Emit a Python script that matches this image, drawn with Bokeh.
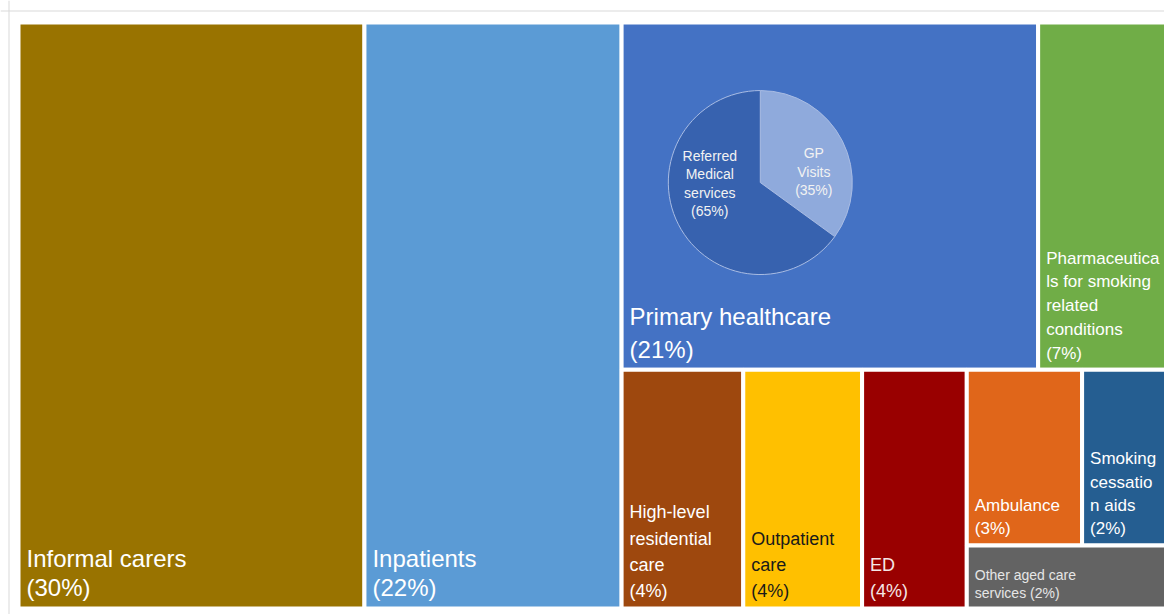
from bokeh.plotting import figure
from bokeh.models import Range1d, Span, ColumnDataSource
from bokeh.core.properties import value
from bokeh.embed import file_html
from bokeh.resources import INLINE
import math

# ---- data ----
categories = ["Informal carers", "Inpatients", "Primary healthcare",
              "Pharmaceuticals for smoking related conditions",
              "High-level residential care", "Outpatient care", "ED",
              "Ambulance", "Smoking cessation aids", "Other aged care services"]
shares = [30.0, 22.3, 21.4, 6.8, 4.3, 4.2, 3.7, 3.0, 2.3, 1.9]
pct_labels = ["30%", "22%", "21%", "7%", "4%", "4%", "4%", "3%", "2%", "2%"]
label_lines = [["Informal carers"], ["Inpatients"], ["Primary healthcare"],
               ["Pharmaceutica", "ls for smoking", "related", "conditions"],
               ["High-level", "residential", "care"], ["Outpatient", "care"], ["ED"],
               ["Ambulance"], ["Smoking", "cessatio", "n aids"], ["Other aged care", " services"]]
colors = ["#997300", "#5B9BD5", "#4472C4", "#70AD47", "#9E480E",
          "#FFC000", "#990000", "#E0661A", "#255E91", "#636363"]
text_colors = ["white", "white", "white", "white", "white",
               "#1a1a1a", "#f5e6e6", "white", "white", "#e6e6e6"]

pie_categories = ["GP Visits", "Referred Medical services"]
pie_shares = [35, 65]
pie_pct = ["35%", "65%"]
pie_lines = [["GP", "Visits"], ["Referred", "Medical", "services"]]
pie_colors = ["#8FAADC", "#3762AF"]

# ---- treemap layout (slice-and-dice hierarchy) ----
tree = ("h", [0, 1, ("v", [("h", [2, 3]), ("h", [4, 5, 6, ("v", [("h", [7, 8]), 9])])])])

def total(node):
    if isinstance(node, int):
        return shares[node]
    return sum(total(k) for k in node[1])

rects = {}
def layout(node, x0, y0, x1, y1):
    if isinstance(node, int):
        rects[node] = (x0, y0, x1, y1)
        return
    d, kids = node
    t = total(node)
    if d == "h":
        c = x0
        for k in kids:
            w = (x1 - x0) * total(k) / t
            layout(k, c, y0, c + w, y1)
            c += w
    else:
        c = y1
        for k in kids:
            h = (y1 - y0) * total(k) / t
            layout(k, x0, c - h, x1, c)
            c -= h

W, H = 1152, 586
layout(tree, 0, 0, W, H)

n = len(categories)
src = ColumnDataSource(dict(
    left=[rects[i][0] for i in range(n)], bottom=[rects[i][1] for i in range(n)],
    right=[rects[i][2] for i in range(n)], top=[rects[i][3] for i in range(n)],
    color=colors, name=categories))

p = figure(width=1164, height=614, output_backend="svg", toolbar_location=None,
           x_range=Range1d(-18, 1146), y_range=Range1d(-6, 608),
           min_border=0, min_border_left=0, min_border_right=0,
           min_border_top=0, min_border_bottom=0)
p.axis.visible = False
p.grid.visible = False
p.outline_line_color = None
p.background_fill_color = "white"
p.border_fill_color = "white"

p.quad(left="left", right="right", bottom="bottom", top="top", fill_color="color",
       line_color="white", line_width=4, source=src)

# frame border
p.add_layout(Span(location=-9.5, dimension="height", line_color="#d9d9d9", line_width=1))
p.add_layout(Span(location=597.5, dimension="width", line_color="#d9d9d9", line_width=1))

FONT = value("Liberation Sans")
style = {0: (24, 1.1), 1: (24, 1.1), 2: (24, 1.22),
         3: (17, 1.25), 4: (18, 1.32), 5: (18, 1.32), 6: (18, 1.32),
         7: (17, 1.24), 8: (17, 1.23), 9: (14, 1.17)}

for i in range(n):
    x0, y0, x1, y1 = rects[i]
    lines = list(label_lines[i])
    if i == 9:
        lines[-1] = lines[-1] + " (" + pct_labels[i] + ")"
    else:
        lines.append("(" + pct_labels[i] + ")")
    fs, lh = style[i]
    p.text(x=[x0 + 8], y=[y0 + 7], text=["\n".join(lines)],
           text_font=FONT, text_font_size=f"{fs}px", text_line_height=lh,
           text_color=text_colors[i], text_align="left", text_baseline="bottom")

# ---- inset pie inside Primary healthcare ----
px0, py0, px1, py1 = rects[2]
cx = px0 + 0.333 * (px1 - px0)
cy = py0 + 0.539 * (py1 - py0)
R = 92
start = math.pi / 2
angles = []
for s in pie_shares:
    end = start - 2 * math.pi * s / sum(pie_shares)
    angles.append((start, end))
    start = end
p.wedge(x=[cx, cx], y=[cy, cy], radius=R,
        start_angle=[a[0] for a in angles], end_angle=[a[1] for a in angles],
        direction="clock", fill_color=pie_colors, line_color="#a9bce3", line_width=1)

pie_offsets = [(53.5, 11), (-50.5, -1)]
for j in range(len(pie_shares)):
    txt = "\n".join(pie_lines[j] + ["(" + pie_pct[j] + ")"])
    p.text(x=[cx + pie_offsets[j][0]], y=[cy + pie_offsets[j][1]], text=[txt],
           text_font=FONT, text_font_size="14px", text_line_height=1.15,
           text_color="#f2f2f2", text_align="center", text_baseline="middle")

open("out.html", "w").write(file_html(p, INLINE))
